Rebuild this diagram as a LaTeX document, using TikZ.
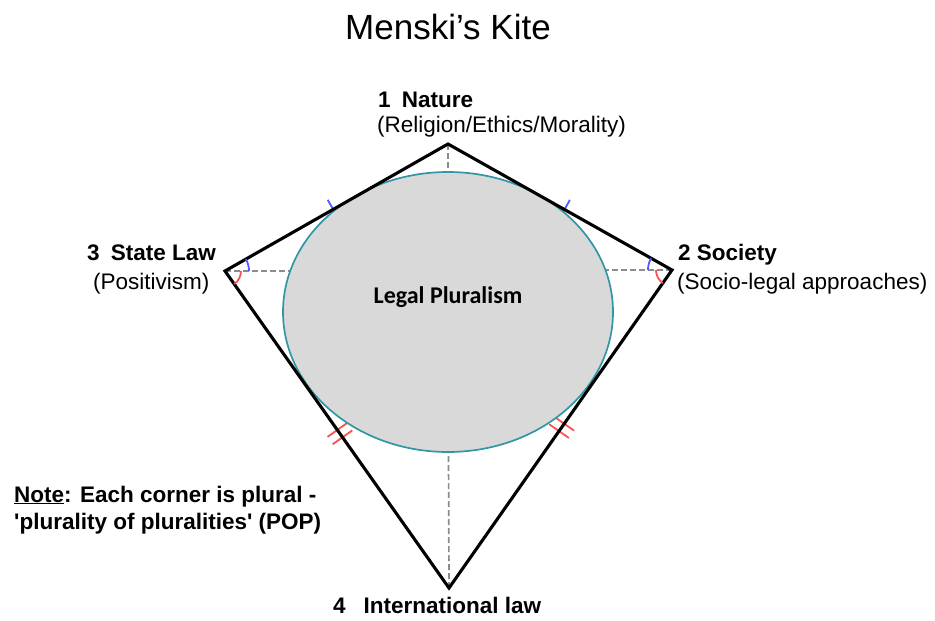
\documentclass[tikz,border=0pt]{standalone}
\usepackage{fontspec}
\newfontfamily\lab{Liberation Sans}
\newfontfamily\carl{Carlito}
\usetikzlibrary{calc}
\definecolor{ellfill}{RGB}{217,217,217}
\definecolor{ellline}{RGB}{50,150,165}
\definecolor{tickblue}{RGB}{80,90,255}
\definecolor{tickred}{RGB}{255,80,80}
\definecolor{dashgray}{RGB}{140,140,140}
\begin{document}
\begin{tikzpicture}[x=1pt,y=-1pt,
  kite/.style={draw=black,line width=3.1pt,line join=miter},
  ell/.style={draw=ellline,fill=ellfill,line width=1.7pt},
  guide/.style={draw=dashgray,line width=1.7pt,dash pattern=on 6pt off 3pt},
  bluemark/.style={draw=tickblue,line width=1.8pt},
  redmark/.style={draw=tickred,line width=1.8pt},
  lbl/.style={font=\lab\fontsize{22.5}{26}\selectfont,inner sep=0pt},
  lblb/.style={font=\lab\bfseries\fontsize{22.5}{26}\selectfont,inner sep=0pt}]
\useasboundingbox (0,0) rectangle (935,621);
% vertices and centre
\coordinate (T) at (448,144);
\coordinate (L) at (225,271);
\coordinate (R) at (672,270);
\coordinate (B) at (449,588);
\coordinate (C) at (448,312);
% dashed guides (covered by the ellipse)
\draw[guide] (T) -- (C);
\draw[guide] (B) -- (C);
\draw[guide] (L) -- (L -| C);
\draw[guide] (R) -- (R -| C);
% tangent ticks
\coordinate (t1) at ($(L)!0.485!(T)$);
\coordinate (t2) at ($(R)!0.48!(T)$);
\draw[bluemark] ($(t1)!6pt!-90:(T)$) -- ($(t1)!11pt!90:(T)$);
\draw[bluemark] ($(t2)!6pt!90:(T)$) -- ($(t2)!11pt!-90:(T)$);
\coordinate (r1) at ($(L)!0.513!(B)$);
\coordinate (r2) at ($(R)!0.495!(B)$);
\foreach \p/\q in {r1/L,r2/R}{
  \coordinate (ra) at ($(\p)!4.5pt!(\q)$);
  \coordinate (rb) at ($(\p)!-4.5pt!(\q)$);
  \draw[redmark] ($(ra)!12pt!90:(\q)$) -- ($(ra)!12pt!-90:(\q)$);
  \draw[redmark] ($(rb)!12pt!90:(\q)$) -- ($(rb)!12pt!-90:(\q)$);
}
% ellipse
\draw[ell] (C) ellipse[x radius=165pt,y radius=140pt];
% kite
\draw[kite] (T) -- (R) -- (B) -- (L) -- cycle;
% angle marks
\draw[bluemark] ([shift={(0:24pt)}]L) arc[start angle=0,end angle=29.7,radius=24pt];
\draw[redmark] ([shift={(-54.7:16pt)}]L) arc[start angle=-54.7,end angle=0,radius=16pt];
\draw[bluemark] ([shift={(150.6:24pt)}]R) arc[start angle=150.6,end angle=180,radius=24pt];
\draw[redmark] ([shift={(180:16pt)}]R) arc[start angle=180,end angle=235,radius=16pt];
% texts
\node[inner sep=0pt,anchor=base,font=\lab\fontsize{35}{40}\selectfont] (title) at (448,39) {Menski’s Kite};
\node[lblb,anchor=base west] (n1) at (378,107) {1\hspace{0.5em}Nature};
\node[lbl,anchor=base west] (n1s) at (377,132) {(Religion/Ethics/Morality)};
\node[lblb,anchor=base west] (n3) at (87,260) {3\hspace{0.5em}State Law};
\node[lbl,anchor=base west] (n3s) at (93,289) {(Positivism)};
\node[lblb,anchor=base west] (n2) at (678,260) {2 Society};
\node[lbl,anchor=base west] (n2s) at (677,289) {(Socio-legal approaches)};
\node[lblb,anchor=base west] (n4) at (333,613) {4\hspace{0.8em}International law};
\node[inner sep=0pt,anchor=base,font=\carl\bfseries\fontsize{24}{28}\selectfont] (lp) at (448,303) {Legal Pluralism};
\node[lblb,anchor=base west] (note1) at (14,502) {\underline{Note}: Each corner is plural -};
\node[lblb,anchor=base west] (note2) at (14,529) {'plurality of pluralities' (POP)};
\end{tikzpicture}
\end{document}
